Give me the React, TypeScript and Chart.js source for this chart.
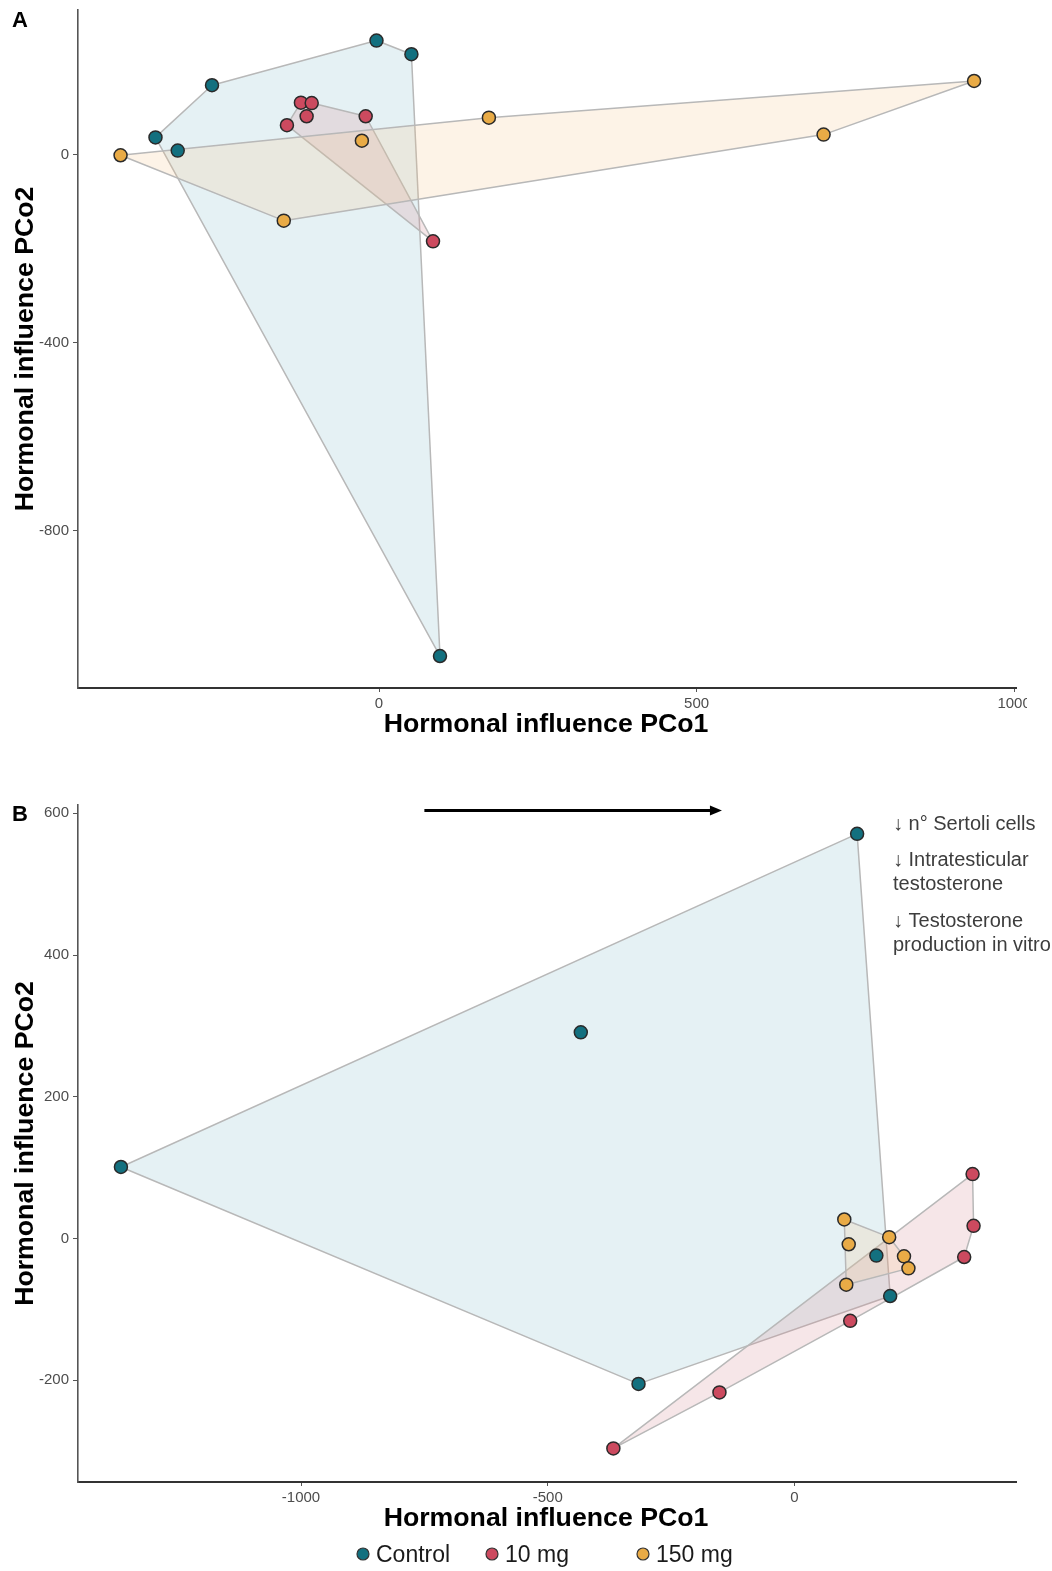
import React, { useEffect, useRef } from "react";
import { Chart, registerables } from "chart.js";

Chart.register(...registerables);

const FONT = "'Liberation Sans', Arial, Helvetica, sans-serif";

// ---- groups ----
const groups = ["Control", "10 mg", "150 mg"];
const groupColors = ["#13707f", "#cc4a5f", "#e9ab46"];
const hullFills = [
  "rgba(160,205,216,0.28)",
  "rgba(215,140,152,0.22)",
  "rgba(243,196,135,0.20)",
];

// ---- Panel A data ----
const aControlX = [-4, 51, -263, -352, -317, 96];
const aControlY = [243, 214, 148, 37, 9, -1066];
const a10X = [-123, -106, -114, -145, -21, 85];
const a10Y = [111, 110, 82, 63, 82, -184];
const a150X = [-407, 173, -27, -150, 700, 937];
const a150Y = [-1, 79, 30, -140, 43, 157];

// ---- Panel B data ----
const bControlX = [127, -433, -1365, -316, 166, 194];
const bControlY = [571, 291, 101, -205, -24, -81];
const b10X = [361, 363, 344, 113, -152, -367];
const b10Y = [91, 18, -26, -116, -217, -296];
const b150X = [101, 110, 192, 222, 231, 105];
const b150Y = [27, -8, 2, -25, -42, -65];

// ---- ticks ----
const aXTicks = [0, 500, 1000];
const aYTicks = [-800, -400, 0];
const bXTicks = [-1000, -500, 0];
const bYTicks = [-200, 0, 200, 400, 600];

const xTitle = "Hormonal influence PCo1";
const yTitle = "Hormonal influence PCo2";
const annotationLines = [
  "\u2193 n\u00b0 Sertoli cells",
  "\u2193 Intratesticular",
  "testosterone",
  "\u2193 Testosterone",
  "production in vitro",
];
const annotationLineY = [64, 100, 124, 161, 185];
const arrowFrom = { x: -750, y: 604 };
const arrowTo = { x: -147, y: 604 };

type Pt = { x: number; y: number };

function convexHull(pts: Pt[]): Pt[] {
  const p = [...pts].sort((a, b) => a.x - b.x || a.y - b.y);
  if (p.length < 3) return p;
  const cross = (o: Pt, a: Pt, b: Pt) =>
    (a.x - o.x) * (b.y - o.y) - (a.y - o.y) * (b.x - o.x);
  const lower: Pt[] = [];
  for (const q of p) {
    while (lower.length >= 2 && cross(lower[lower.length - 2], lower[lower.length - 1], q) <= 0) lower.pop();
    lower.push(q);
  }
  const upper: Pt[] = [];
  for (let i = p.length - 1; i >= 0; i--) {
    const q = p[i];
    while (upper.length >= 2 && cross(upper[upper.length - 2], upper[upper.length - 1], q) <= 0) upper.pop();
    upper.push(q);
  }
  upper.pop();
  lower.pop();
  return lower.concat(upper);
}

const hullPlugin = {
  id: "hulls",
  beforeDatasetsDraw(chart: any) {
    const ctx = chart.ctx;
    const xs = chart.scales.x;
    const ys = chart.scales.y;
    chart.data.datasets.forEach((ds: any, i: number) => {
      const pts = ds.data.map((d: Pt) => ({
        x: xs.getPixelForValue(d.x),
        y: ys.getPixelForValue(d.y),
      }));
      const h = convexHull(pts);
      ctx.save();
      ctx.beginPath();
      h.forEach((p, k) => (k === 0 ? ctx.moveTo(p.x, p.y) : ctx.lineTo(p.x, p.y)));
      ctx.closePath();
      ctx.fillStyle = hullFills[i];
      ctx.fill();
      ctx.strokeStyle = "#b8b8b8";
      ctx.lineWidth = 1.5;
      ctx.lineJoin = "round";
      ctx.stroke();
      ctx.restore();
    });
  },
};

type PanelSpec = {
  letter: string;
  letterY: number;
  xs: number[][];
  ys: number[][];
  xMin: number;
  xMax: number;
  yMin: number;
  yMax: number;
  xTicks: number[];
  yTicks: number[];
  width: number;
  height: number;
  top: number;
  padTop: number;
  padRight: number;
  xAxisH: number;
  extra?: (chart: any) => void;
};

function drawPanelB(chart: any) {
  const ctx = chart.ctx;
  const xs = chart.scales.x;
  const ys = chart.scales.y;
  // arrow
  const x1 = xs.getPixelForValue(arrowFrom.x);
  const x2 = xs.getPixelForValue(arrowTo.x);
  const y = ys.getPixelForValue(arrowFrom.y);
  ctx.save();
  ctx.strokeStyle = "#000";
  ctx.fillStyle = "#000";
  ctx.lineWidth = 3;
  ctx.beginPath();
  ctx.moveTo(x1, y);
  ctx.lineTo(x2 - 10, y);
  ctx.stroke();
  ctx.beginPath();
  ctx.moveTo(x2, y);
  ctx.lineTo(x2 - 12, y - 5);
  ctx.lineTo(x2 - 12, y + 5);
  ctx.closePath();
  ctx.fill();
  // annotation text
  ctx.font = `20px ${FONT}`;
  ctx.fillStyle = "#3d3d3d";
  ctx.textAlign = "left";
  ctx.textBaseline = "middle";
  annotationLines.forEach((t, i) => ctx.fillText(t, 893, annotationLineY[i]));
  // legend
  const dotX = [363, 492, 643];
  const ly = 794;
  ctx.font = `23px ${FONT}`;
  ctx.textBaseline = "alphabetic";
  groups.forEach((g, i) => {
    ctx.beginPath();
    ctx.arc(dotX[i], ly, 6, 0, Math.PI * 2);
    ctx.fillStyle = groupColors[i];
    ctx.fill();
    ctx.strokeStyle = "#333";
    ctx.lineWidth = 1.2;
    ctx.stroke();
    ctx.fillStyle = "#1a1a1a";
    ctx.fillText(g, dotX[i] + 13, 802);
  });
  ctx.restore();
}

function makeConfig(p: PanelSpec): any {
  const decor = {
    id: "decor",
    afterDraw(chart: any) {
      const ctx = chart.ctx;
      const a = chart.chartArea;
      ctx.save();
      ctx.fillStyle = "#000";
      ctx.font = `bold 22px ${FONT}`;
      ctx.textAlign = "left";
      ctx.textBaseline = "alphabetic";
      ctx.fillText(p.letter, 12, p.letterY);
      ctx.font = `bold 26.7px ${FONT}`;
      ctx.textAlign = "center";
      ctx.fillText(xTitle, (a.left + a.right) / 2 - 1, a.bottom + 44);
      ctx.save();
      ctx.translate(32.5, (a.top + a.bottom) / 2);
      ctx.rotate(-Math.PI / 2);
      ctx.fillText(yTitle, 0, 0);
      ctx.restore();
      ctx.restore();
      if (p.extra) p.extra(chart);
    },
  };
  const tickFont = { family: FONT, size: 15 };
  return {
    type: "scatter",
    data: {
      datasets: groups.map((g, i) => ({
        label: g,
        data: p.xs[i].map((x, j) => ({ x, y: p.ys[i][j] })),
        backgroundColor: groupColors[i],
        borderColor: "#2a2a2a",
        borderWidth: 1.5,
        pointRadius: 6.5,
        pointHoverRadius: 6.5,
      })),
    },
    options: {
      animation: false,
      responsive: false,
      devicePixelRatio: 1,
      events: [],
      layout: { padding: { left: 0, top: p.padTop, right: p.padRight, bottom: 0 } },
      plugins: { legend: { display: false }, tooltip: { enabled: false } },
      scales: {
        x: {
          type: "linear",
          min: p.xMin,
          max: p.xMax,
          afterBuildTicks: (s: any) => {
            s.ticks = p.xTicks.map((v) => ({ value: v }));
          },
          afterFit: (s: any) => {
            s.height = p.xAxisH;
            s.paddingLeft = 0;
            s.paddingRight = 0;
          },
          grid: { display: true, drawOnChartArea: false, drawTicks: true, tickLength: 4, color: "#555", lineWidth: 1 },
          border: { display: true, color: "#333", width: 2 },
          ticks: {
            color: "#4d4d4d",
            font: tickFont,
            padding: 3,
            maxRotation: 0,
            autoSkip: false,
            callback: (v: any) => String(v),
          },
        },
        y: {
          type: "linear",
          min: p.yMin,
          max: p.yMax,
          afterBuildTicks: (s: any) => {
            s.ticks = p.yTicks.map((v) => ({ value: v }));
          },
          afterFit: (s: any) => {
            s.width = 78;
            s.paddingTop = 0;
            s.paddingBottom = 0;
          },
          grid: { display: true, drawOnChartArea: false, drawTicks: true, tickLength: 5, color: "#555", lineWidth: 1 },
          border: { display: true, color: "#555", width: 1.6 },
          ticks: {
            color: "#4d4d4d",
            font: tickFont,
            padding: 4,
            autoSkip: false,
            callback: (v: any) => String(v),
          },
        },
      },
    },
    plugins: [hullPlugin, decor],
  };
}

const panelA: PanelSpec = {
  letter: "A",
  letterY: 27,
  xs: [aControlX, a10X, a150X],
  ys: [aControlY, a10Y, a150Y],
  xMin: -474,
  xMax: 1003,
  yMin: -1134,
  yMax: 308,
  xTicks: aXTicks,
  yTicks: aYTicks,
  width: 1027,
  height: 760,
  top: 0,
  padTop: 10,
  padRight: 11,
  xAxisH: 72,
};

const panelB: PanelSpec = {
  letter: "B",
  letterY: 61,
  xs: [bControlX, b10X, b150X],
  ys: [bControlY, b10Y, b150Y],
  xMin: -1452,
  xMax: 449,
  yMin: -343.4,
  yMax: 611.7,
  xTicks: bXTicks,
  yTicks: bYTicks,
  width: 1052,
  height: 811,
  top: 760,
  padTop: 45,
  padRight: 36,
  xAxisH: 89,
  extra: drawPanelB,
};

function PanelChart({ spec }: { spec: PanelSpec }) {
  const ref = useRef<HTMLCanvasElement | null>(null);
  useEffect(() => {
    if (!ref.current) return;
    const chart = new Chart(ref.current, makeConfig(spec));
    return () => chart.destroy();
  }, [spec]);
  return (
    <canvas
      ref={ref}
      width={spec.width}
      height={spec.height}
      style={{
        position: "absolute",
        left: 0,
        top: spec.top,
        width: spec.width,
        height: spec.height,
        display: "block",
      }}
    />
  );
}

export default function App() {
  return (
    <div
      style={{
        position: "absolute",
        left: 0,
        top: 0,
        width: 1052,
        height: 1571,
        background: "#fff",
        overflow: "hidden",
      }}
    >
      <PanelChart spec={panelA} />
      <PanelChart spec={panelB} />
    </div>
  );
}
